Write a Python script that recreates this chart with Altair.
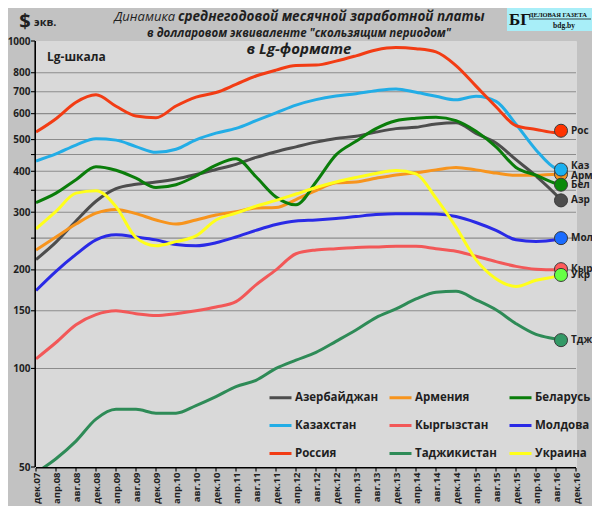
import altair as alt
import pandas as pd

# ---------------- data ----------------
countries = ["Азербайджан", "Армения", "Беларусь", "Казахстан", "Кыргызстан",
             "Молдова", "Россия", "Таджикистан", "Украина"]
abbr = ["Азр", "Арм", "Бел", "Каз", "Кыр", "Мол", "Рос", "Тдж", "Укр"]

# month index: 0 = дек.07
months = [0, 4, 8, 12, 16, 20, 24, 28, 32, 36, 40, 44, 48, 52, 56, 60, 64, 68,
          72, 76, 80, 84, 88, 92, 96, 100, 104, 105]

azr = [215, 243, 282, 324, 354, 365, 371, 379, 391, 405, 420, 441, 459, 475, 491, 504, 512, 527,
       540, 545, 558, 563, 522, 488, 434, 387, 339, 326]
arm = [230, 252, 276, 298, 306, 297, 284, 276, 284, 294, 301, 309, 310, 328, 349, 369, 371, 381,
       390, 396, 404, 411, 404, 395, 389, 389, 392, 392]
bel = [321, 343, 377, 413, 403, 381, 357, 364, 387, 418, 437, 385, 334, 316, 371, 449, 494, 540,
       571, 581, 585, 571, 530, 475, 411, 389, 367, 364]
kaz = [430, 452, 481, 503, 498, 476, 457, 467, 499, 523, 541, 571, 603, 637, 662, 679, 690, 705,
       714, 697, 678, 661, 678, 654, 557, 465, 408, 405]
kyr = [107, 120, 136, 146, 150, 147, 145, 147, 150, 154, 160, 180, 200, 224, 230, 232, 234, 235,
       236, 236, 232, 228, 220, 212, 205, 201, 200, 201]
mol = [173, 198, 223, 247, 256, 252, 247, 239, 237, 242, 252, 264, 275, 282, 284, 287, 291, 295,
       297, 297, 296, 291, 279, 264, 247, 244, 247, 250]
rus = [527, 579, 650, 685, 632, 590, 583, 633, 674, 696, 737, 782, 815, 842, 844, 868, 901, 939,
       955, 947, 926, 841, 728, 630, 551, 537, 525, 532]
tdj = [48, 53, 60, 70, 75, 75, 73, 73, 77, 82, 88, 92, 100, 106, 112, 121, 131, 143,
       152, 163, 171, 172, 162, 151, 137, 127, 123, 122]
ukr = [267, 302, 343, 349, 312, 251, 237, 244, 254, 284, 298, 313, 326, 341, 357, 371, 383, 394,
       402, 393, 331, 270, 215, 188, 178, 186, 191, 193]

x_tick_labels = ["дек.07", "апр.08", "авг.08", "дек.08", "апр.09", "авг.09", "дек.09",
                 "апр.10", "авг.10", "дек.10", "апр.11", "авг.11", "дек.11", "апр.12",
                 "авг.12", "дек.12", "апр.13", "авг.13", "дек.13", "апр.14", "авг.14",
                 "дек.14", "апр.15", "авг.15", "дек.15", "апр.16", "авг.16", "дек.16"]
x_tick_values = list(range(0, 109, 4))
y_tick_values = [50, 100, 150, 200, 250, 300, 350, 400, 450, 500, 600, 700, 800, 1000]
y_grid_values = [100, 150, 200, 250, 300, 350, 400, 450, 500, 600, 700, 800]
x_domain = [0, 108]
y_domain = [50, 1000]

series = [azr, arm, bel, kaz, kyr, mol, rus, tdj, ukr]

# ---------------- styles ----------------
line_colors = ["#4d4d4d", "#f7941d", "#0a7d0a", "#22ade6", "#f25858",
               "#2a2ae6", "#f23c14", "#2e8b57", "#ffff1a"]
marker_colors = ["#4d4d4d", "#f7941d", "#0a8a0a", "#1ab0f0", "#ff5a5a",
                 "#1a6cff", "#ff3300", "#339966", "#66ff44"]
FONT = "Open Sans"
TXT = "#1f1f1f"
W, H = 540, 426

# legend is filled column by column: order so rows read as in the reference
legend_order = [countries[i] for i in (0, 3, 6, 1, 4, 7, 2, 5, 8)]
color_of = dict(zip(countries, line_colors))
legend_range = [color_of[c] for c in legend_order]

rows = []
for c, vals in zip(countries, series):
    for m, v in zip(months, vals):
        rows.append({"country": c, "month": m, "value": v})
df = pd.DataFrame(rows)

last = pd.DataFrame({
    "country": countries,
    "abbr": abbr,
    "month": [months[-1]] * len(countries),
    "value": [s[-1] for s in series],
})

grid_df = pd.DataFrame([{"g": g, "value": g, "month": m}
                        for g in y_grid_values for m in x_domain])

x_scale = alt.Scale(domain=x_domain, nice=False, zero=False)
y_scale = alt.Scale(type="log", domain=y_domain, nice=False)

label_expr = "[" + ",".join("'" + s + "'" for s in x_tick_labels) + "][round(datum.value/4)]"

x_axis = alt.Axis(values=x_tick_values, labelExpr=label_expr, labelAngle=-90,
                  labelFont=FONT, labelFontSize=9.5, labelFontWeight="bold", labelColor=TXT,
                  ticks=False, domain=False, grid=False, title=None, labelPadding=5,
                  labelOverlap=False, labelFlush=False)
y_axis = alt.Axis(values=y_tick_values, format="d",
                  labelExpr="(datum.value == 250 || datum.value == 350 || datum.value == 450) ? '' : datum.label",
                  labelFont=FONT, labelFontSize=10, labelFontWeight="bold", labelColor=TXT,
                  ticks=False, domain=False, grid=False, title=None, labelPadding=6,
                  labelOverlap=False)

X = alt.X("month:Q", scale=x_scale, axis=x_axis)
Y = alt.Y("value:Q", scale=y_scale, axis=y_axis)

# horizontal grid lines drawn as line paths
grid = alt.Chart(grid_df).mark_line(color="#8c8c8c", strokeWidth=1.1).encode(
    x=X, y=Y, detail="g:N")

# axis lines
y_line = alt.Chart(pd.DataFrame({"value": y_domain})).mark_line(
    color="#000000", strokeWidth=1.6).encode(x=alt.value(-0.8), y=Y)
x_line = alt.Chart(pd.DataFrame({"month": x_domain})).mark_line(
    color="#000000", strokeWidth=1.6).encode(x=X, y=alt.value(H + 0.8))

# small tick marks drawn as stroked symbols
y_ticks = alt.Chart(pd.DataFrame({"value": y_tick_values})).mark_point(
    shape="M-1,0L0,0", size=64, filled=False, color="#000000", strokeWidth=1.1, opacity=1
).encode(x=alt.value(-1), y=Y)
x_ticks = alt.Chart(pd.DataFrame({"month": x_tick_values})).mark_point(
    shape="M0,0L0,1", size=49, filled=False, color="#000000", strokeWidth=1.1, opacity=1
).encode(x=X, y=alt.value(H + 1))

lines = alt.Chart(df).mark_line(strokeWidth=3, interpolate="monotone", clip=True).encode(
    x=X,
    y=Y,
    color=alt.Color("country:N", scale=alt.Scale(domain=legend_order, range=legend_range),
                    legend=alt.Legend(title=None, orient="none", legendX=232, legendY=344,
                                      columns=3, symbolType="stroke", symbolSize=484,
                                      symbolStrokeWidth=3, labelFont=FONT, labelFontSize=11.5,
                                      labelFontWeight="bold", labelColor=TXT, rowPadding=9,
                                      columnPadding=4, gridAlign="all", labelOffset=2,
                                      padding=0)),
    detail="country:N",
)

markers = alt.Chart(last).mark_circle(size=170, opacity=1, stroke="#3a3a3a", strokeWidth=1).encode(
    x=X,
    y=Y,
    fill=alt.Fill("country:N", scale=alt.Scale(domain=countries, range=marker_colors), legend=None),
)

end_lbl_kw = dict(align="left", baseline="middle", font=FONT, fontSize=10,
                  fontWeight="bold", color=TXT)
LX = 535
end_labels = alt.Chart(last).transform_filter(
    "datum.abbr != 'Каз' && datum.abbr != 'Арм'"
).mark_text(**end_lbl_kw).encode(x=alt.value(LX), y=Y, text="abbr:N")
end_kaz = alt.Chart(last).transform_filter("datum.abbr == 'Каз'").mark_text(
    dy=-4, **end_lbl_kw).encode(x=alt.value(LX), y=Y, text="abbr:N")
end_arm = alt.Chart(last).transform_filter("datum.abbr == 'Арм'").mark_text(
    dy=2, **end_lbl_kw).encode(x=alt.value(LX), y=Y, text="abbr:N")


def note(s, vx, vy, size, weight="bold", style="normal", align="left", font=FONT,
         color=TXT, baseline="middle"):
    return alt.Chart(pd.DataFrame({"t": [s]})).mark_text(
        align=align, baseline=baseline, font=font, fontSize=size, fontWeight=weight,
        fontStyle=style, color=color
    ).encode(x=alt.value(vx), y=alt.value(vy), text="t:N")


one = pd.DataFrame({"a": [1]})
logo_box = alt.Chart(one).mark_rect(color="#a8eef8").encode(
    x=alt.value(471), x2=alt.value(556), y=alt.value(-33), y2=alt.value(-10))
logo_line = alt.Chart(one).mark_point(
    shape="M-1,0L1,0", size=62 * 62, filled=False, color="#1a1a1a", strokeWidth=0.8, opacity=1
).encode(x=alt.value(524), y=alt.value(-22))

annotations = [
    note("Динамика", 139, -24, 13, weight="normal", style="italic", align="right"),
    note("среднегодовой месячной заработной платы", 142, -24, 13.5, style="italic"),
    note("в долларовом эквиваленте \"скользящим периодом\"", 263, -7, 11.5,
         style="italic", align="center"),
    note("$", -11, -19, 20, align="center"),
    note("экв.", -2, -18, 11),
    note("Lg-шкала", 11, 16, 12),
    note("в Lg-формате", 263, 8, 15, style="italic", align="center"),
    note("БГ", 473, -21, 17, font="Liberation Serif", color="#111111"),
    note("ДЕЛОВАЯ ГАЗЕТА", 493, -26, 6.5, font="Liberation Serif", color="#111111"),
    note("bdg.by", 528, -15, 7.5, font="Liberation Serif", color="#111111", align="center"),
]

chart = alt.layer(
    grid, lines, markers, end_labels, end_kaz, end_arm, y_line, x_line, y_ticks, x_ticks,
    logo_box, logo_line, *annotations
).properties(
    width=W, height=H,
    autosize=alt.AutoSizeParams(type="none"),
    padding={"left": 28, "top": 33, "right": 16, "bottom": 39},
    background="#c2c2c2",
).configure_view(fill="#d9d9d9", stroke="#d9d9d9")

chart.save("out.html", embed_options={"renderer": "svg", "actions": False})
